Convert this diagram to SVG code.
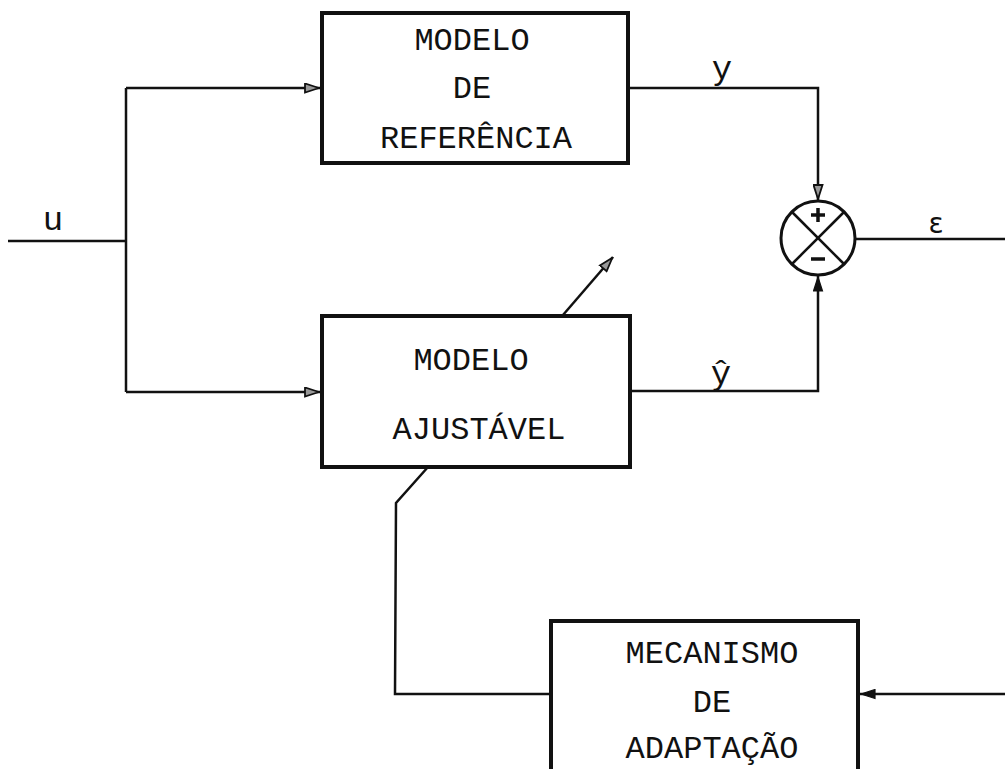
<svg xmlns="http://www.w3.org/2000/svg" width="1005" height="769" viewBox="0 0 1005 769">
<style>
.box{fill:none;stroke:#111;stroke-width:4}
.ln{fill:none;stroke:#111;stroke-width:2.5}
.t{font-family:"Liberation Mono","Courier New",monospace;font-size:32px;fill:#111;text-anchor:middle}
.lbl{font-family:"Liberation Mono","Courier New",monospace;font-size:34px;fill:#111;text-anchor:middle}
</style>
<defs>
<marker id="open" viewBox="0 0 16 11" refX="16" refY="5.5" markerWidth="16" markerHeight="11" markerUnits="userSpaceOnUse" orient="auto">
<path d="M1,1 L15,5.5 L1,10 Z" fill="#999" stroke="#111" stroke-width="1.8"/>
</marker>
<marker id="solid" viewBox="0 0 16 11" refX="16" refY="5.5" markerWidth="16" markerHeight="11" markerUnits="userSpaceOnUse" orient="auto">
<path d="M1,1 L15,5.5 L1,10 Z" fill="#111" stroke="#111" stroke-width="1.2"/>
</marker>
</defs>
<rect width="1005" height="769" fill="#fff"/>
<g id="connectors">
<polyline class="ln" points="8,241 126,241"/>
<polyline class="ln" points="126,88 126,392"/>
<polyline class="ln" points="126,88 320,88" marker-end="url(#open)"/>
<polyline class="ln" points="126,392 320,392" marker-end="url(#open)"/>
<polyline class="ln" points="629,88 818,88 818,200" marker-end="url(#open)"/>
<polyline class="ln" points="630,391 818,391 818,276" marker-end="url(#solid)"/>
<polyline class="ln" points="856,239 1005,239"/>
<polyline class="ln" points="563,315 613,257" marker-end="url(#open)"/>
<polyline class="ln" points="428,467 396,503 395,694 551,694"/>
<polyline class="ln" points="1005,694 860,694" marker-end="url(#solid)"/>
<text class="lbl" x="53" y="230">u</text>
<text class="lbl" x="722" y="79">y</text>
<text class="lbl" x="721" y="384">ŷ</text>
<text class="lbl" x="936" y="233" style="font-family:'DejaVu Sans',sans-serif;font-size:28px">ε</text>
</g>
<g id="modelo-referencia">
<rect class="box" x="322" y="13" width="306" height="150"/>
<text class="t" x="472" y="50">MODELO</text>
<text class="t" x="472" y="98">DE</text>
<text class="t" x="476" y="148">REFERÊNCIA</text>
</g>
<g id="modelo-ajustavel">
<rect class="box" x="322" y="316" width="308" height="151"/>
<text class="t" x="471" y="370">MODELO</text>
<text class="t" x="479" y="439">AJUSTÁVEL</text>
</g>
<g id="somador">
<circle cx="818" cy="238" r="37" fill="#fff" stroke="#111" stroke-width="3"/>
<line class="ln" x1="792" y1="212" x2="844" y2="264"/>
<line class="ln" x1="844" y1="212" x2="792" y2="264"/>
<line x1="811" y1="215" x2="825" y2="215" stroke="#111" stroke-width="3.5"/>
<line x1="818" y1="208" x2="818" y2="222" stroke="#111" stroke-width="3.5"/>
<line x1="811" y1="259" x2="825" y2="259" stroke="#111" stroke-width="3.5"/>
</g>
<g id="mecanismo-adaptacao">
<rect class="box" x="551" y="621" width="307" height="200"/>
<text class="t" x="712" y="663">MECANISMO</text>
<text class="t" x="712" y="712">DE</text>
<text class="t" x="712" y="758">ADAPTAÇÃO</text>
</g>
</svg>
